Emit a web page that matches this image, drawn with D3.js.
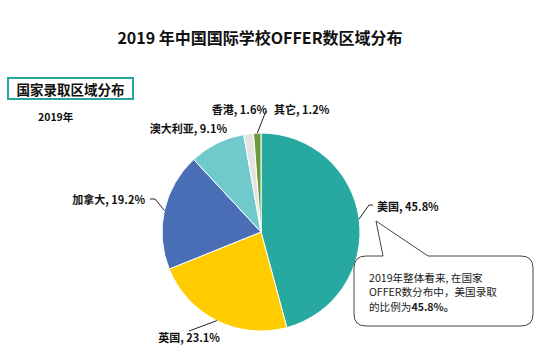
<!DOCTYPE html>
<html><head><meta charset="utf-8">
<script src="https://cdn.jsdelivr.net/npm/d3@7"></script>
<style>
body{margin:0;background:#fff;}
svg{display:block;font-family:"Noto Sans CJK SC","Microsoft YaHei",sans-serif;}
</style></head>
<body><svg id="c" width="549" height="361"></svg>
<script>
const categories = ["美国","英国","加拿大","澳大利亚","香港","其它"];
const values = [45.8, 23.1, 19.2, 9.1, 1.6, 1.2];
const colors = ["#27A9A0","#FFCC00","#4A6EB6","#70C9CB","#E3E3E3","#6A9B3A"];
const titleText = "2019 年中国国际学校OFFER数区域分布";
const subTitle = "国家录取区域分布";
const yearText = "2019年";
const noteLines = ["2019年整体看来, 在国家","OFFER数分布中，美国录取","的比例为"];
const noteBold = "45.8%";

const svg = d3.select("#c");
const cx = 261, cy = 232, R = 99;

svg.append("text").attr("x",260).attr("y",37).attr("text-anchor","middle")
  .attr("dominant-baseline","central").attr("font-size",16).attr("font-weight","bold")
  .attr("fill","#111").text(titleText);

svg.append("rect").attr("x",8).attr("y",78).attr("width",125).attr("height",21)
  .attr("fill","#fff").attr("stroke","#2AA59C").attr("stroke-width",2);
svg.append("text").attr("x",70.5).attr("y",88.5).attr("text-anchor","middle")
  .attr("dominant-baseline","central").attr("font-size",13.5).attr("font-weight","bold")
  .attr("fill","#111").text(subTitle);
svg.append("text").attr("x",38).attr("y",116).attr("dominant-baseline","central")
  .attr("font-size",10.5).attr("font-weight","bold").attr("fill","#111").text(yearText);

const data = categories.map((c,i)=>({cat:c,val:values[i],color:colors[i]}));
const pie = d3.pie().value(d=>d.val).sort(null).startAngle(0).endAngle(2*Math.PI);
const arcs = pie(data);
const arc = d3.arc().innerRadius(0).outerRadius(R);
const g = svg.append("g").attr("transform",`translate(${cx},${cy})`);
g.selectAll("path").data(arcs).enter().append("path")
  .attr("d",arc).attr("fill",d=>d.data.color).attr("stroke","#fff").attr("stroke-width",1);

// label layout (positions only)
const layout = {
  "美国":   {tx:377, ty:206, anchor:"start", line:[[369,205],[373,205]]},
  "英国":   {tx:189, ty:337, anchor:"middle", line:[[189,331]]},
  "加拿大": {tx:145, ty:199, anchor:"end", line:[[155,199],[150,199]]},
  "澳大利亚":{tx:227, ty:128, anchor:"end", line:null},
  "香港":   {tx:267, ty:109, anchor:"end", line:null},
  "其它":   {tx:274, ty:109, anchor:"start", line:[[266,111]]}
};
const fmt = v => `${d3.format(".1f")(v)}%`;
arcs.forEach(a=>{
  const L = layout[a.data.cat];
  const mid = (a.startAngle+a.endAngle)/2;
  if(L.line){
    const p0 = [cx+R*Math.sin(mid), cy-R*Math.cos(mid)];
    const pts = [p0].concat(L.line);
    svg.append("path").attr("d",d3.line()(pts)).attr("fill","none")
      .attr("stroke","#222").attr("stroke-width",1);
  }
  svg.append("text").attr("x",L.tx).attr("y",L.ty).attr("text-anchor",L.anchor)
    .attr("dominant-baseline","central").attr("font-size",11).attr("font-weight","bold")
    .attr("fill","#111").text(`${a.data.cat}, ${fmt(a.data.val)}`);
});

// callout
const bx=354, by=256, bw=179, bh=70, r=12;
const tip=[376,221], b1=383, b2=428;
const cp = `M${bx+r},${by} L${b1},${by} L${tip[0]},${tip[1]} L${b2},${by} L${bx+bw-r},${by}
 Q${bx+bw},${by} ${bx+bw},${by+r} L${bx+bw},${by+bh-r} Q${bx+bw},${by+bh} ${bx+bw-r},${by+bh}
 L${bx+r},${by+bh} Q${bx},${by+bh} ${bx},${by+bh-r} L${bx},${by+r} Q${bx},${by} ${bx+r},${by} Z`;
svg.append("path").attr("d",cp).attr("fill","#fff").attr("stroke","#444").attr("stroke-width",1);
noteLines.forEach((t,i)=>{
  const tx = svg.append("text").attr("x",369).attr("y",277+i*14.5).attr("dominant-baseline","central")
    .attr("font-size",10.6).attr("fill","#1a1a1a").text(t);
  if(i===noteLines.length-1){
    tx.append("tspan").attr("font-weight","bold").text(noteBold+"。");
  }
});
</script></body></html>
